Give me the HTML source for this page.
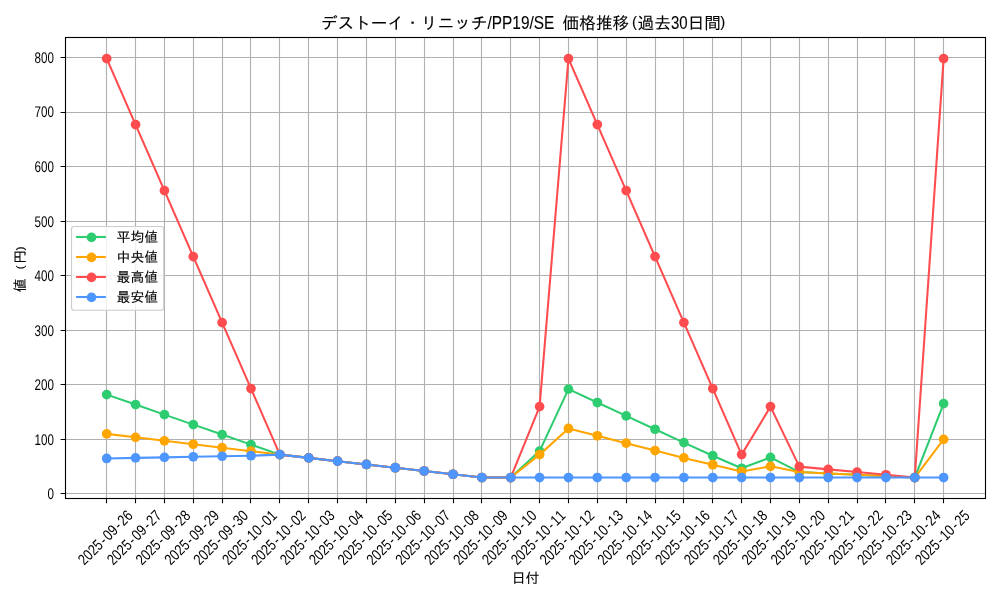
<!DOCTYPE html>
<html lang="ja"><head><meta charset="utf-8"><title>価格推移</title>
<style>html,body{margin:0;padding:0;background:#fff}svg{display:block}text{font-family:"Liberation Sans", "IPAGothic", sans-serif;fill:#000}.j{stroke:#000;stroke-width:.1px}</style></head><body>
<svg width="1000" height="600" viewBox="0 0 1000 600">
<rect width="1000" height="600" fill="#fff"/>
<path d="M106.5 37.5V498.5M135.5 37.5V498.5M164.5 37.5V498.5M193.5 37.5V498.5M222.5 37.5V498.5M250.5 37.5V498.5M279.5 37.5V498.5M308.5 37.5V498.5M337.5 37.5V498.5M366.5 37.5V498.5M395.5 37.5V498.5M424.5 37.5V498.5M453.5 37.5V498.5M481.5 37.5V498.5M510.5 37.5V498.5M539.5 37.5V498.5M568.5 37.5V498.5M597.5 37.5V498.5M626.5 37.5V498.5M655.5 37.5V498.5M683.5 37.5V498.5M712.5 37.5V498.5M741.5 37.5V498.5M770.5 37.5V498.5M799.5 37.5V498.5M828.5 37.5V498.5M857.5 37.5V498.5M885.5 37.5V498.5M914.5 37.5V498.5M943.5 37.5V498.5M65.5 493.5H985.5M65.5 439.5H985.5M65.5 384.5H985.5M65.5 330.5H985.5M65.5 275.5H985.5M65.5 221.5H985.5M65.5 166.5H985.5M65.5 112.5H985.5M65.5 57.5H985.5" stroke="#b0b0b0" stroke-width="1.11" fill="none"/>
<clipPath id="c"><rect x="65.5" y="37.5" width="920.0" height="461.0"/></clipPath><g clip-path="url(#c)">
<polyline points="106.70,394.62 135.56,404.60 164.42,414.64 193.28,424.62 222.14,434.60 251.00,444.64 279.86,454.62 308.72,457.90 337.58,461.17 366.44,464.44 395.30,467.72 424.16,470.99 453.02,474.26 481.88,477.53 510.74,477.53 539.60,451.08 568.46,389.16 597.32,402.53 626.18,415.89 655.04,429.26 683.90,442.62 712.76,455.71 741.62,468.26 770.48,457.35 799.34,472.08 828.20,473.44 857.06,474.81 885.92,476.17 914.78,477.53 943.64,403.62" fill="none" stroke="#2ecc71" stroke-width="2.08" stroke-linejoin="round" stroke-linecap="butt"/>
<g fill="#2ecc71"><circle cx="106.70" cy="394.62" r="4.86"/><circle cx="135.56" cy="404.60" r="4.86"/><circle cx="164.42" cy="414.64" r="4.86"/><circle cx="193.28" cy="424.62" r="4.86"/><circle cx="222.14" cy="434.60" r="4.86"/><circle cx="251.00" cy="444.64" r="4.86"/><circle cx="279.86" cy="454.62" r="4.86"/><circle cx="308.72" cy="457.90" r="4.86"/><circle cx="337.58" cy="461.17" r="4.86"/><circle cx="366.44" cy="464.44" r="4.86"/><circle cx="395.30" cy="467.72" r="4.86"/><circle cx="424.16" cy="470.99" r="4.86"/><circle cx="453.02" cy="474.26" r="4.86"/><circle cx="481.88" cy="477.53" r="4.86"/><circle cx="510.74" cy="477.53" r="4.86"/><circle cx="539.60" cy="451.08" r="4.86"/><circle cx="568.46" cy="389.16" r="4.86"/><circle cx="597.32" cy="402.53" r="4.86"/><circle cx="626.18" cy="415.89" r="4.86"/><circle cx="655.04" cy="429.26" r="4.86"/><circle cx="683.90" cy="442.62" r="4.86"/><circle cx="712.76" cy="455.71" r="4.86"/><circle cx="741.62" cy="468.26" r="4.86"/><circle cx="770.48" cy="457.35" r="4.86"/><circle cx="799.34" cy="472.08" r="4.86"/><circle cx="828.20" cy="473.44" r="4.86"/><circle cx="857.06" cy="474.81" r="4.86"/><circle cx="885.92" cy="476.17" r="4.86"/><circle cx="914.78" cy="477.53" r="4.86"/><circle cx="943.64" cy="403.62" r="4.86"/></g>
<polyline points="106.70,433.89 135.56,437.33 164.42,440.82 193.28,444.26 222.14,447.70 251.00,451.19 279.86,454.62 308.72,457.90 337.58,461.17 366.44,464.44 395.30,467.72 424.16,470.99 453.02,474.26 481.88,477.53 510.74,477.53 539.60,454.62 568.46,428.44 597.32,435.80 626.18,443.17 655.04,450.53 683.90,457.90 712.76,464.72 741.62,471.53 770.48,466.35 799.34,472.08 828.20,473.44 857.06,474.81 885.92,476.17 914.78,477.53 943.64,439.35" fill="none" stroke="#ffa500" stroke-width="2.08" stroke-linejoin="round" stroke-linecap="butt"/>
<g fill="#ffa500"><circle cx="106.70" cy="433.89" r="4.86"/><circle cx="135.56" cy="437.33" r="4.86"/><circle cx="164.42" cy="440.82" r="4.86"/><circle cx="193.28" cy="444.26" r="4.86"/><circle cx="222.14" cy="447.70" r="4.86"/><circle cx="251.00" cy="451.19" r="4.86"/><circle cx="279.86" cy="454.62" r="4.86"/><circle cx="308.72" cy="457.90" r="4.86"/><circle cx="337.58" cy="461.17" r="4.86"/><circle cx="366.44" cy="464.44" r="4.86"/><circle cx="395.30" cy="467.72" r="4.86"/><circle cx="424.16" cy="470.99" r="4.86"/><circle cx="453.02" cy="474.26" r="4.86"/><circle cx="481.88" cy="477.53" r="4.86"/><circle cx="510.74" cy="477.53" r="4.86"/><circle cx="539.60" cy="454.62" r="4.86"/><circle cx="568.46" cy="428.44" r="4.86"/><circle cx="597.32" cy="435.80" r="4.86"/><circle cx="626.18" cy="443.17" r="4.86"/><circle cx="655.04" cy="450.53" r="4.86"/><circle cx="683.90" cy="457.90" r="4.86"/><circle cx="712.76" cy="464.72" r="4.86"/><circle cx="741.62" cy="471.53" r="4.86"/><circle cx="770.48" cy="466.35" r="4.86"/><circle cx="799.34" cy="472.08" r="4.86"/><circle cx="828.20" cy="473.44" r="4.86"/><circle cx="857.06" cy="474.81" r="4.86"/><circle cx="885.92" cy="476.17" r="4.86"/><circle cx="914.78" cy="477.53" r="4.86"/><circle cx="943.64" cy="439.35" r="4.86"/></g>
<polyline points="106.70,58.59 135.56,124.60 164.42,190.60 193.28,256.61 222.14,322.61 251.00,388.62 279.86,454.62 308.72,457.90 337.58,461.17 366.44,464.44 395.30,467.72 424.16,470.99 453.02,474.26 481.88,477.53 510.74,477.53 539.60,406.62 568.46,58.59 597.32,124.60 626.18,190.60 655.04,256.61 683.90,322.61 712.76,388.62 741.62,454.62 770.48,406.62 799.34,466.62 828.20,469.35 857.06,472.08 885.92,474.81 914.78,477.53 943.64,58.59" fill="none" stroke="#ff4d4f" stroke-width="2.08" stroke-linejoin="round" stroke-linecap="butt"/>
<g fill="#ff4d4f"><circle cx="106.70" cy="58.59" r="4.86"/><circle cx="135.56" cy="124.60" r="4.86"/><circle cx="164.42" cy="190.60" r="4.86"/><circle cx="193.28" cy="256.61" r="4.86"/><circle cx="222.14" cy="322.61" r="4.86"/><circle cx="251.00" cy="388.62" r="4.86"/><circle cx="279.86" cy="454.62" r="4.86"/><circle cx="308.72" cy="457.90" r="4.86"/><circle cx="337.58" cy="461.17" r="4.86"/><circle cx="366.44" cy="464.44" r="4.86"/><circle cx="395.30" cy="467.72" r="4.86"/><circle cx="424.16" cy="470.99" r="4.86"/><circle cx="453.02" cy="474.26" r="4.86"/><circle cx="481.88" cy="477.53" r="4.86"/><circle cx="510.74" cy="477.53" r="4.86"/><circle cx="539.60" cy="406.62" r="4.86"/><circle cx="568.46" cy="58.59" r="4.86"/><circle cx="597.32" cy="124.60" r="4.86"/><circle cx="626.18" cy="190.60" r="4.86"/><circle cx="655.04" cy="256.61" r="4.86"/><circle cx="683.90" cy="322.61" r="4.86"/><circle cx="712.76" cy="388.62" r="4.86"/><circle cx="741.62" cy="454.62" r="4.86"/><circle cx="770.48" cy="406.62" r="4.86"/><circle cx="799.34" cy="466.62" r="4.86"/><circle cx="828.20" cy="469.35" r="4.86"/><circle cx="857.06" cy="472.08" r="4.86"/><circle cx="885.92" cy="474.81" r="4.86"/><circle cx="914.78" cy="477.53" r="4.86"/><circle cx="943.64" cy="58.59" r="4.86"/></g>
<polyline points="106.70,458.44 135.56,457.90 164.42,457.35 193.28,456.81 222.14,456.26 251.00,455.71 279.86,454.62 308.72,457.90 337.58,461.17 366.44,464.44 395.30,467.72 424.16,470.99 453.02,474.26 481.88,477.53 510.74,477.53 539.60,477.53 568.46,477.53 597.32,477.53 626.18,477.53 655.04,477.53 683.90,477.53 712.76,477.53 741.62,477.53 770.48,477.53 799.34,477.53 828.20,477.53 857.06,477.53 885.92,477.53 914.78,477.53 943.64,477.53" fill="none" stroke="#4d96ff" stroke-width="2.08" stroke-linejoin="round" stroke-linecap="butt"/>
<g fill="#4d96ff"><circle cx="106.70" cy="458.44" r="4.86"/><circle cx="135.56" cy="457.90" r="4.86"/><circle cx="164.42" cy="457.35" r="4.86"/><circle cx="193.28" cy="456.81" r="4.86"/><circle cx="222.14" cy="456.26" r="4.86"/><circle cx="251.00" cy="455.71" r="4.86"/><circle cx="279.86" cy="454.62" r="4.86"/><circle cx="308.72" cy="457.90" r="4.86"/><circle cx="337.58" cy="461.17" r="4.86"/><circle cx="366.44" cy="464.44" r="4.86"/><circle cx="395.30" cy="467.72" r="4.86"/><circle cx="424.16" cy="470.99" r="4.86"/><circle cx="453.02" cy="474.26" r="4.86"/><circle cx="481.88" cy="477.53" r="4.86"/><circle cx="510.74" cy="477.53" r="4.86"/><circle cx="539.60" cy="477.53" r="4.86"/><circle cx="568.46" cy="477.53" r="4.86"/><circle cx="597.32" cy="477.53" r="4.86"/><circle cx="626.18" cy="477.53" r="4.86"/><circle cx="655.04" cy="477.53" r="4.86"/><circle cx="683.90" cy="477.53" r="4.86"/><circle cx="712.76" cy="477.53" r="4.86"/><circle cx="741.62" cy="477.53" r="4.86"/><circle cx="770.48" cy="477.53" r="4.86"/><circle cx="799.34" cy="477.53" r="4.86"/><circle cx="828.20" cy="477.53" r="4.86"/><circle cx="857.06" cy="477.53" r="4.86"/><circle cx="885.92" cy="477.53" r="4.86"/><circle cx="914.78" cy="477.53" r="4.86"/><circle cx="943.64" cy="477.53" r="4.86"/></g>
</g>
<path d="M106.5 498.5v4.86M135.5 498.5v4.86M164.5 498.5v4.86M193.5 498.5v4.86M222.5 498.5v4.86M250.5 498.5v4.86M279.5 498.5v4.86M308.5 498.5v4.86M337.5 498.5v4.86M366.5 498.5v4.86M395.5 498.5v4.86M424.5 498.5v4.86M453.5 498.5v4.86M481.5 498.5v4.86M510.5 498.5v4.86M539.5 498.5v4.86M568.5 498.5v4.86M597.5 498.5v4.86M626.5 498.5v4.86M655.5 498.5v4.86M683.5 498.5v4.86M712.5 498.5v4.86M741.5 498.5v4.86M770.5 498.5v4.86M799.5 498.5v4.86M828.5 498.5v4.86M857.5 498.5v4.86M885.5 498.5v4.86M914.5 498.5v4.86M943.5 498.5v4.86M65.5 493.5h-4.86M65.5 439.5h-4.86M65.5 384.5h-4.86M65.5 330.5h-4.86M65.5 275.5h-4.86M65.5 221.5h-4.86M65.5 166.5h-4.86M65.5 112.5h-4.86M65.5 57.5h-4.86" stroke="#000" stroke-width="1.11" fill="none"/>
<rect x="65.5" y="37.5" width="920.0" height="461.0" fill="none" stroke="#000" stroke-width="1.11"/>
<text transform="translate(53.9 499.35) rotate(0.03) scale(0.755 1)" text-anchor="end" font-size="15.4">0</text>
<text transform="translate(53.9 444.80) rotate(0.03) scale(0.755 1)" text-anchor="end" font-size="15.4">100</text>
<text transform="translate(53.9 390.25) rotate(0.03) scale(0.755 1)" text-anchor="end" font-size="15.4">200</text>
<text transform="translate(53.9 335.70) rotate(0.03) scale(0.755 1)" text-anchor="end" font-size="15.4">300</text>
<text transform="translate(53.9 281.15) rotate(0.03) scale(0.755 1)" text-anchor="end" font-size="15.4">400</text>
<text transform="translate(53.9 226.60) rotate(0.03) scale(0.755 1)" text-anchor="end" font-size="15.4">500</text>
<text transform="translate(53.9 172.05) rotate(0.03) scale(0.755 1)" text-anchor="end" font-size="15.4">600</text>
<text transform="translate(53.9 117.50) rotate(0.03) scale(0.755 1)" text-anchor="end" font-size="15.4">700</text>
<text transform="translate(53.9 62.95) rotate(0.03) scale(0.755 1)" text-anchor="end" font-size="15.4">800</text>
<text transform="translate(105.05 537.30) rotate(-45) scale(0.81 1)" x="-43.09 -34.47 -25.85 -17.23 -6.87 0.00 8.62 18.98 25.85 34.47" y="5.5" font-size="15.4">2025-09-26</text>
<text transform="translate(133.91 537.30) rotate(-45) scale(0.81 1)" x="-43.09 -34.47 -25.85 -17.23 -6.87 0.00 8.62 18.98 25.85 34.47" y="5.5" font-size="15.4">2025-09-27</text>
<text transform="translate(162.77 537.30) rotate(-45) scale(0.81 1)" x="-43.09 -34.47 -25.85 -17.23 -6.87 0.00 8.62 18.98 25.85 34.47" y="5.5" font-size="15.4">2025-09-28</text>
<text transform="translate(191.63 537.30) rotate(-45) scale(0.81 1)" x="-43.09 -34.47 -25.85 -17.23 -6.87 0.00 8.62 18.98 25.85 34.47" y="5.5" font-size="15.4">2025-09-29</text>
<text transform="translate(220.49 537.30) rotate(-45) scale(0.81 1)" x="-43.09 -34.47 -25.85 -17.23 -6.87 0.00 8.62 18.98 25.85 34.47" y="5.5" font-size="15.4">2025-09-30</text>
<text transform="translate(249.35 537.30) rotate(-45) scale(0.81 1)" x="-43.09 -34.47 -25.85 -17.23 -6.87 0.00 8.62 18.98 25.85 34.47" y="5.5" font-size="15.4">2025-10-01</text>
<text transform="translate(278.21 537.30) rotate(-45) scale(0.81 1)" x="-43.09 -34.47 -25.85 -17.23 -6.87 0.00 8.62 18.98 25.85 34.47" y="5.5" font-size="15.4">2025-10-02</text>
<text transform="translate(307.07 537.30) rotate(-45) scale(0.81 1)" x="-43.09 -34.47 -25.85 -17.23 -6.87 0.00 8.62 18.98 25.85 34.47" y="5.5" font-size="15.4">2025-10-03</text>
<text transform="translate(335.93 537.30) rotate(-45) scale(0.81 1)" x="-43.09 -34.47 -25.85 -17.23 -6.87 0.00 8.62 18.98 25.85 34.47" y="5.5" font-size="15.4">2025-10-04</text>
<text transform="translate(364.79 537.30) rotate(-45) scale(0.81 1)" x="-43.09 -34.47 -25.85 -17.23 -6.87 0.00 8.62 18.98 25.85 34.47" y="5.5" font-size="15.4">2025-10-05</text>
<text transform="translate(393.65 537.30) rotate(-45) scale(0.81 1)" x="-43.09 -34.47 -25.85 -17.23 -6.87 0.00 8.62 18.98 25.85 34.47" y="5.5" font-size="15.4">2025-10-06</text>
<text transform="translate(422.51 537.30) rotate(-45) scale(0.81 1)" x="-43.09 -34.47 -25.85 -17.23 -6.87 0.00 8.62 18.98 25.85 34.47" y="5.5" font-size="15.4">2025-10-07</text>
<text transform="translate(451.37 537.30) rotate(-45) scale(0.81 1)" x="-43.09 -34.47 -25.85 -17.23 -6.87 0.00 8.62 18.98 25.85 34.47" y="5.5" font-size="15.4">2025-10-08</text>
<text transform="translate(480.23 537.30) rotate(-45) scale(0.81 1)" x="-43.09 -34.47 -25.85 -17.23 -6.87 0.00 8.62 18.98 25.85 34.47" y="5.5" font-size="15.4">2025-10-09</text>
<text transform="translate(509.09 537.30) rotate(-45) scale(0.81 1)" x="-43.09 -34.47 -25.85 -17.23 -6.87 0.00 8.62 18.98 25.85 34.47" y="5.5" font-size="15.4">2025-10-10</text>
<text transform="translate(537.95 537.30) rotate(-45) scale(0.81 1)" x="-43.09 -34.47 -25.85 -17.23 -6.87 0.00 8.62 18.98 25.85 34.47" y="5.5" font-size="15.4">2025-10-11</text>
<text transform="translate(566.81 537.30) rotate(-45) scale(0.81 1)" x="-43.09 -34.47 -25.85 -17.23 -6.87 0.00 8.62 18.98 25.85 34.47" y="5.5" font-size="15.4">2025-10-12</text>
<text transform="translate(595.67 537.30) rotate(-45) scale(0.81 1)" x="-43.09 -34.47 -25.85 -17.23 -6.87 0.00 8.62 18.98 25.85 34.47" y="5.5" font-size="15.4">2025-10-13</text>
<text transform="translate(624.53 537.30) rotate(-45) scale(0.81 1)" x="-43.09 -34.47 -25.85 -17.23 -6.87 0.00 8.62 18.98 25.85 34.47" y="5.5" font-size="15.4">2025-10-14</text>
<text transform="translate(653.39 537.30) rotate(-45) scale(0.81 1)" x="-43.09 -34.47 -25.85 -17.23 -6.87 0.00 8.62 18.98 25.85 34.47" y="5.5" font-size="15.4">2025-10-15</text>
<text transform="translate(682.25 537.30) rotate(-45) scale(0.81 1)" x="-43.09 -34.47 -25.85 -17.23 -6.87 0.00 8.62 18.98 25.85 34.47" y="5.5" font-size="15.4">2025-10-16</text>
<text transform="translate(711.11 537.30) rotate(-45) scale(0.81 1)" x="-43.09 -34.47 -25.85 -17.23 -6.87 0.00 8.62 18.98 25.85 34.47" y="5.5" font-size="15.4">2025-10-17</text>
<text transform="translate(739.97 537.30) rotate(-45) scale(0.81 1)" x="-43.09 -34.47 -25.85 -17.23 -6.87 0.00 8.62 18.98 25.85 34.47" y="5.5" font-size="15.4">2025-10-18</text>
<text transform="translate(768.83 537.30) rotate(-45) scale(0.81 1)" x="-43.09 -34.47 -25.85 -17.23 -6.87 0.00 8.62 18.98 25.85 34.47" y="5.5" font-size="15.4">2025-10-19</text>
<text transform="translate(797.69 537.30) rotate(-45) scale(0.81 1)" x="-43.09 -34.47 -25.85 -17.23 -6.87 0.00 8.62 18.98 25.85 34.47" y="5.5" font-size="15.4">2025-10-20</text>
<text transform="translate(826.55 537.30) rotate(-45) scale(0.81 1)" x="-43.09 -34.47 -25.85 -17.23 -6.87 0.00 8.62 18.98 25.85 34.47" y="5.5" font-size="15.4">2025-10-21</text>
<text transform="translate(855.41 537.30) rotate(-45) scale(0.81 1)" x="-43.09 -34.47 -25.85 -17.23 -6.87 0.00 8.62 18.98 25.85 34.47" y="5.5" font-size="15.4">2025-10-22</text>
<text transform="translate(884.27 537.30) rotate(-45) scale(0.81 1)" x="-43.09 -34.47 -25.85 -17.23 -6.87 0.00 8.62 18.98 25.85 34.47" y="5.5" font-size="15.4">2025-10-23</text>
<text transform="translate(913.13 537.30) rotate(-45) scale(0.81 1)" x="-43.09 -34.47 -25.85 -17.23 -6.87 0.00 8.62 18.98 25.85 34.47" y="5.5" font-size="15.4">2025-10-24</text>
<text transform="translate(941.99 537.30) rotate(-45) scale(0.81 1)" x="-43.09 -34.47 -25.85 -17.23 -6.87 0.00 8.62 18.98 25.85 34.47" y="5.5" font-size="15.4">2025-10-25</text>
<text class="j" font-size="16.67" xml:space="preserve"><tspan x="320.89" y="28.8">デストーイ・リニッチ</tspan><tspan x="487.59" y="28.8" font-size="18.6" textLength="66.68" lengthAdjust="spacingAndGlyphs">/PP19/SE</tspan><tspan x="554.27 562.61" y="28.8"> 価格推移</tspan><tspan x="631.89" y="26.8" font-size="15">(</tspan><tspan x="637.62" y="28.8">過去</tspan><tspan x="670.96" y="28.8" font-size="18.6" textLength="16.67" lengthAdjust="spacingAndGlyphs">30</tspan><tspan x="687.63" y="28.8">日間</tspan><tspan x="720.37" y="26.8" font-size="15">)</tspan></text>
<text class="j" x="525.5" y="583.2" font-size="13.89" text-anchor="middle">日付</text>
<text class="j" xml:space="preserve" transform="translate(25 268) rotate(-90)" y="0" font-size="13.89"><tspan x="-24.31">値</tspan><tspan x="-10.42 -1.27" font-size="11.5" dy="-0.8"> (</tspan><tspan x="4.37" dy="0.8">円</tspan><tspan x="17.76" font-size="11.5" dy="-0.8">)</tspan></text>
<rect x="71.5" y="226.5" width="92.2" height="83.7" rx="2.8" fill="#fff" fill-opacity="0.8" stroke="#ccc" stroke-width="1.11"/>
<path d="M76.1 237H105.9" stroke="#2ecc71" stroke-width="2.08"/><circle cx="91.5" cy="237.4" r="4.86" fill="#2ecc71"/>
<text class="j" x="116.5" y="242.3" font-size="13.89">平均値</text>
<path d="M76.1 257H105.9" stroke="#ffa500" stroke-width="2.08"/><circle cx="91.5" cy="257.4" r="4.86" fill="#ffa500"/>
<text class="j" x="116.5" y="262.3" font-size="13.89">中央値</text>
<path d="M76.1 277H105.9" stroke="#ff4d4f" stroke-width="2.08"/><circle cx="91.5" cy="277.4" r="4.86" fill="#ff4d4f"/>
<text class="j" x="116.5" y="282.3" font-size="13.89">最高値</text>
<path d="M76.1 297H105.9" stroke="#4d96ff" stroke-width="2.08"/><circle cx="91.5" cy="297.4" r="4.86" fill="#4d96ff"/>
<text class="j" x="116.5" y="302.3" font-size="13.89">最安値</text>
</svg></body></html>
